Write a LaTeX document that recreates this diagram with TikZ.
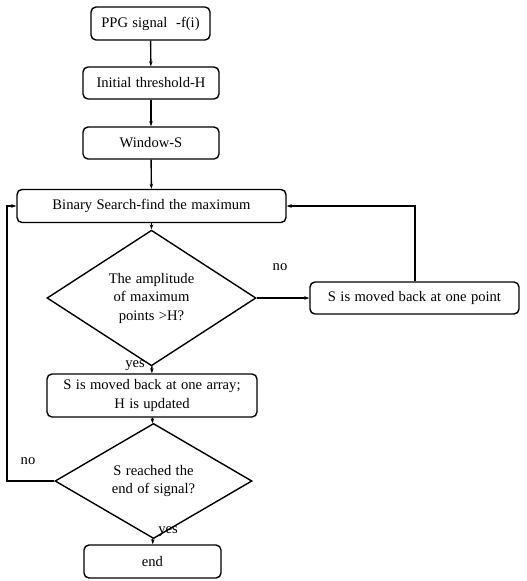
\documentclass[tikz,border=0pt]{standalone}
\usepackage{fontspec}
\setmainfont[WordSpace={1.2,1,1}]{Liberation Serif}
\usetikzlibrary{shapes.geometric,arrows.meta}
\begin{document}
\begin{tikzpicture}[x=1pt,y=-1pt,
  every node/.style={font=\fontsize{14.6}{18.5}\selectfont},
  procbox/.style={draw,line width=1.4pt,rounded corners=5pt,align=center,inner sep=0pt},
  decision/.style={draw,line width=1.4pt,diamond,align=center,inner sep=0pt},
  conn/.style={line width=1.4pt,-{Stealth[length=5pt,width=3.5pt]}},
  lbl/.style={inner sep=0pt,anchor=base}]
\useasboundingbox (0,0) rectangle (527,581);
\node[procbox,minimum width=119pt,minimum height=33pt] (ppg) at (150.5,23.5) {PPG signal \ -f(i)};
\node[procbox,minimum width=136pt,minimum height=32pt] (init) at (151,83) {Initial threshold-H};
\node[procbox,minimum width=136pt,minimum height=32pt] (win) at (151,143) {Window-S};
\node[procbox,minimum width=269pt,minimum height=33pt] (bin) at (151.5,206) {Binary Search-find the maximum};
\node[decision,minimum width=209pt,minimum height=98pt] (d1) at (151.5,298) {The amplitude\\of maximum\\points >H?};
\node[procbox,minimum width=209pt,minimum height=32pt] (mv1) at (414.5,298) {S is moved back at one point};
\node[procbox,minimum width=210pt,minimum height=43pt] (mv2) at (152,395.5) {S is moved back at one array;\\H is updated};
\node[decision,minimum width=197pt,minimum height=74pt] (d2) at (153.5,481) {S reached the\\end of signal?};
\node[procbox,minimum width=137pt,minimum height=33pt] (fin) at (152.5,561.5) {end};
\coordinate (topr) at (415,206);
\coordinate (botl) at (7,481);
\coordinate (topl) at (7,206);
\draw[conn] (ppg) -- (init);
\draw[conn] (init) -- (win);
\draw[conn] (win) -- (bin);
\draw[conn] (bin) -- (d1);
\draw[conn] (d1) -- (mv1);
\draw[conn] (mv1.north -| topr) -- (topr) -- (bin.east);
\draw[conn] (d1) -- (mv2);
\draw[conn] (mv2) -- (d2);
\draw[conn] (d2) -- (fin);
\draw[conn] (d2.west) -- (botl) -- (topl) -- (bin.west);
\node[lbl] (no1) at (280,270) {no};
\node[lbl] (yes1) at (135,367) {yes};
\node[lbl] (no2) at (28,464) {no};
\node[lbl] (yes2) at (168,533) {yes};
\end{tikzpicture}
\end{document}
